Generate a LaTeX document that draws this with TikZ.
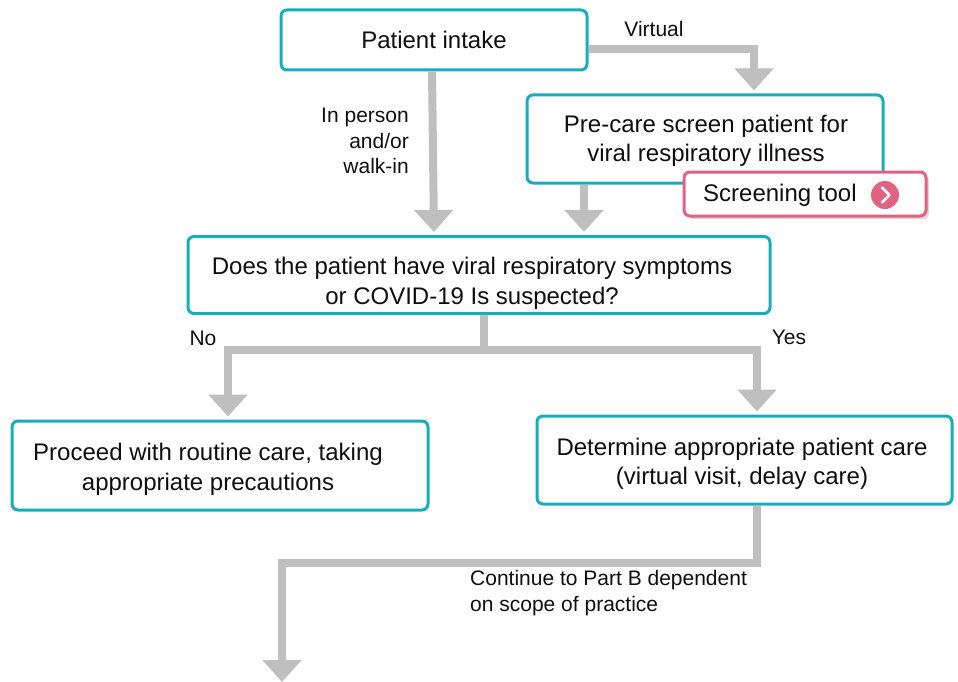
\documentclass[tikz,border=0pt]{standalone}
\usepackage{fontspec}
\setmainfont{Liberation Sans}
\usetikzlibrary{arrows.meta,shadows,calc}
\definecolor{tealb}{RGB}{23,174,188}
\definecolor{pinkb}{RGB}{226,99,129}
\definecolor{arrowgray}{RGB}{191,191,191}
\definecolor{txt}{RGB}{15,15,15}
\begin{document}
\begin{tikzpicture}[x=1pt,y=-1pt,
  box/.style={draw=tealb, line width=3pt, rounded corners=6pt, fill=white, inner sep=0pt},
  boxtext/.style={align=center, text=txt, font=\fontsize{24}{29.5}\selectfont, inner sep=0pt},
  lbl/.style={font=\fontsize{21}{25.5}\selectfont, inner sep=0pt, text=txt},
  flow/.style={draw=arrowgray, line width=8pt, -{Triangle[width=38pt,length=22pt]}},
  flowline/.style={draw=arrowgray, line width=8pt},
]
\useasboundingbox (0,0) rectangle (958,682);

% boxes
\node[box, minimum width=306pt, minimum height=60pt] (intake) at (434,40) {};
\node[boxtext] (intaket) at (434,40) {Patient intake};
\node[box, minimum width=356pt, minimum height=88pt] (precare) at (705,139) {};
\node[boxtext] (precaret) at (706,141) {Pre-care screen patient for\\viral respiratory illness};
\node[box, minimum width=582pt, minimum height=77pt] (question) at (479,275) {};
\node[boxtext] (questiont) at (472,283.5)
  {Does the patient have viral respiratory symptoms\\or COVID-19 Is suspected?};
\node[box, minimum width=416pt, minimum height=89pt] (routine) at (220,465.5) {};
\node[boxtext] (routinet) at (208,469.5) {Proceed with routine care, taking\\appropriate precautions};
\node[box, minimum width=415pt, minimum height=88pt] (determine) at (744.5,460) {};
\node[boxtext] (determinet) at (742,464) {Determine appropriate patient care\\(virtual visit, delay care)};

% coordinates
\coordinate (j1) at (484,350);
\coordinate (j2) at (757,563);
\coordinate (endB) at (282,682);

% connectors
\draw[flow] ([yshift=-9pt]intake.east) -| ([xshift=49pt,yshift=3pt]precare.north);
\draw[flow] ([xshift=-2pt]intake.south) -- ([yshift=3pt]intake.south |- question.north);
\draw[flow] ([xshift=-121pt]precare.south) -- ([xshift=-121pt,yshift=3pt]precare.south |- question.north);
\draw[flowline] (question.south -| j1) -- (j1);
\draw[flow] (j1) -| ([xshift=8pt,yshift=3pt]routine.north);
\draw[flow] (j1) -| ([xshift=12.5pt,yshift=3pt]determine.north);
\draw[flow] (determine.south -| j2) -- (j2) -| (endB);

% screening tool
\node[draw=pinkb, line width=3pt, rounded corners=6pt, fill=white, inner sep=0pt,
  minimum width=242pt, minimum height=44pt,
  drop shadow={shadow xshift=3pt, shadow yshift=-3pt, opacity=0.3}]
  (screen) at (805,194) {};
\node[boxtext, anchor=west] (screent) at (703,195) {Screening tool};
\node[circle, fill=pinkb, minimum size=28pt, inner sep=0pt] (btn) at (885,195) {};
\draw[white, line width=2.5pt, line cap=round, line join=round] (882,187.5) -- (889.5,195) -- (882,202.5);

% labels
\node[lbl] (lvirt) at (654,29) {Virtual};
\node[lbl, align=right, anchor=east] (lperson) at (409,141) {In person\\and/or\\walk-in};
\node[lbl] (lno) at (203,338) {No};
\node[lbl] (lyes) at (789,337) {Yes};
\node[lbl, align=left, anchor=west] (lcont) at (470,593) {Continue to Part B dependent\\on scope of practice};
\end{tikzpicture}
\end{document}
